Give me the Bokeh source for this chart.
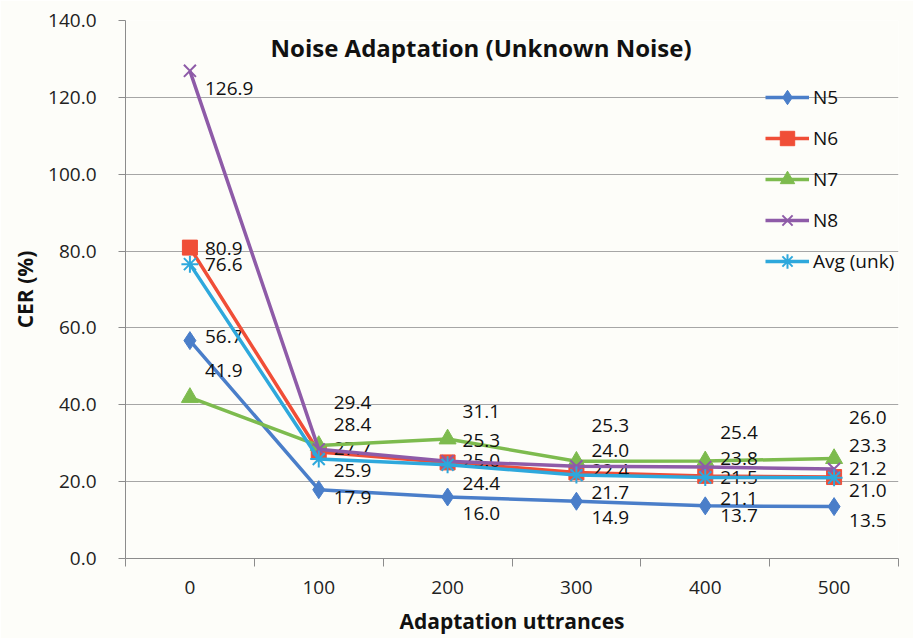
from bokeh.plotting import figure
from bokeh.models import FixedTicker, Range1d, Label, Legend, LegendItem, ColumnDataSource
from bokeh.core.properties import value
from bokeh.embed import file_html
from bokeh.resources import INLINE

categories = ["0", "100", "200", "300", "400", "500"]
n5 = [56.7, 17.9, 16.0, 14.9, 13.7, 13.5]
n6 = [80.9, 27.7, 25.0, 22.4, 21.5, 21.2]
n7 = [41.9, 29.4, 31.1, 25.3, 25.4, 26.0]
n8 = [126.9, 28.4, 25.3, 24.0, 23.8, 23.3]
avg = [76.6, 25.9, 24.4, 21.7, 21.1, 21.0]
y_ticks = [0, 20, 40, 60, 80, 100, 120, 140]

# label pixel offsets (style only)
off_n5 = [-4, 8, 16, 16, 10, 14]
off_n6 = [1, -4, -2, -2, 2, -9]
off_n7 = [-27, -43, -27, -36, -28, -41]
off_n8 = [18, -25, -21, -16, -9, -23]
off_avg = [0, 12, 19, 17, 21, 13]

FONT = "Open Sans"
BG = "#FDFDF9"

p = figure(width=913, height=638, output_backend="svg", toolbar_location=None,
           x_range=Range1d(-0.5, 5.5), y_range=Range1d(0, 140),
           min_border_left=125, min_border_right=15, min_border_top=20, min_border_bottom=80)
p.background_fill_color = BG
p.border_fill_color = BG
p.outline_line_color = None

idx = list(range(len(categories)))

p.xaxis.ticker = FixedTicker(ticks=idx, minor_ticks=[i - 0.5 for i in range(len(categories) + 1)])
p.xaxis.major_label_overrides = {i: c for i, c in enumerate(categories)}
p.xaxis.major_tick_line_color = None
p.xaxis.major_tick_out = 0
p.xaxis.minor_tick_out = 8
p.xaxis.minor_tick_in = 0
p.xaxis.minor_tick_line_color = "#8C8C8C"
p.xaxis.axis_line_color = "#8C8C8C"
p.xaxis.major_label_standoff = 14
p.xaxis.axis_label = "Adaptation uttrances"
p.xaxis.axis_label_standoff = 10
p.xgrid.grid_line_color = None

p.yaxis.ticker = FixedTicker(ticks=y_ticks, minor_ticks=[])
p.yaxis.major_label_overrides = {t: f"{t:.1f}" for t in y_ticks}
p.yaxis.major_tick_out = 7
p.yaxis.major_tick_in = 0
p.yaxis.major_tick_line_color = "#8C8C8C"
p.yaxis.axis_line_color = "#8C8C8C"
p.yaxis.major_label_standoff = 22
p.yaxis.axis_label = "CER (%)"
p.yaxis.axis_label_standoff = 6
p.ygrid.grid_line_color = "#A6A6A6"
p.ygrid.grid_line_width = 1

for ax in (p.xaxis, p.yaxis):
    ax.major_label_text_font = FONT
    ax.major_label_text_font_size = "19px"
    ax.major_label_text_color = "#222222"
    ax.axis_label_text_font = FONT
    ax.axis_label_text_font_size = "21px"
    ax.axis_label_text_font_style = "bold"
    ax.axis_label_text_color = "#111111"

series = [
    ("N5", n5, "#4A7EC9", "diamond", 18, off_n5),
    ("N6", n6, "#F04E37", "square", 15, off_n6),
    ("N7", n7, "#7DBB4E", "triangle", 17, off_n7),
    ("N8", n8, "#8E5BA8", "x", 17, off_n8),
    ("Avg (unk)", avg, "#2EA8DC", "asterisk", 17, off_avg),
]

items = []
for name, vals, color, marker, size, offs in series:
    src = ColumnDataSource(dict(x=idx, y=vals, lbl=[f"{v:.1f}" for v in vals], off=offs))
    r1 = p.line("x", "y", source=src, line_color=color, line_width=3.5)
    if marker in ("x", "asterisk"):
        r2 = p.scatter("x", "y", source=src, marker=marker, size=size, line_color=color, line_width=2)
    else:
        r2 = p.scatter("x", "y", source=src, marker=marker, size=size, fill_color=color, line_color=color)
    items.append(LegendItem(label=name, renderers=[r1, r2]))
    p.text("x", "y", text="lbl", source=src, x_offset=15, y_offset="off",
           text_font=value(FONT), text_font_size="19px", text_color="#111111",
           text_baseline="middle", text_align="left")

legend = Legend(items=items, location=(640, 279), orientation="vertical")
legend.background_fill_alpha = 0
legend.border_line_color = None
legend.glyph_width = 44
legend.glyph_height = 36
legend.label_height = 20
legend.spacing = 5
legend.padding = 0
legend.margin = 0
legend.label_standoff = 4
legend.label_text_font = FONT
legend.label_text_font_size = "19px"
legend.label_text_color = "#111111"
p.add_layout(legend, "center")

title = Label(x=2.26, y=133.0, text="Noise Adaptation (Unknown Noise)", text_align="center",
              text_baseline="middle", text_font=FONT, text_font_size="24px",
              text_font_style="bold", text_color="#111111")
p.add_layout(title)

open("out.html", "w").write(file_html(p, INLINE))
